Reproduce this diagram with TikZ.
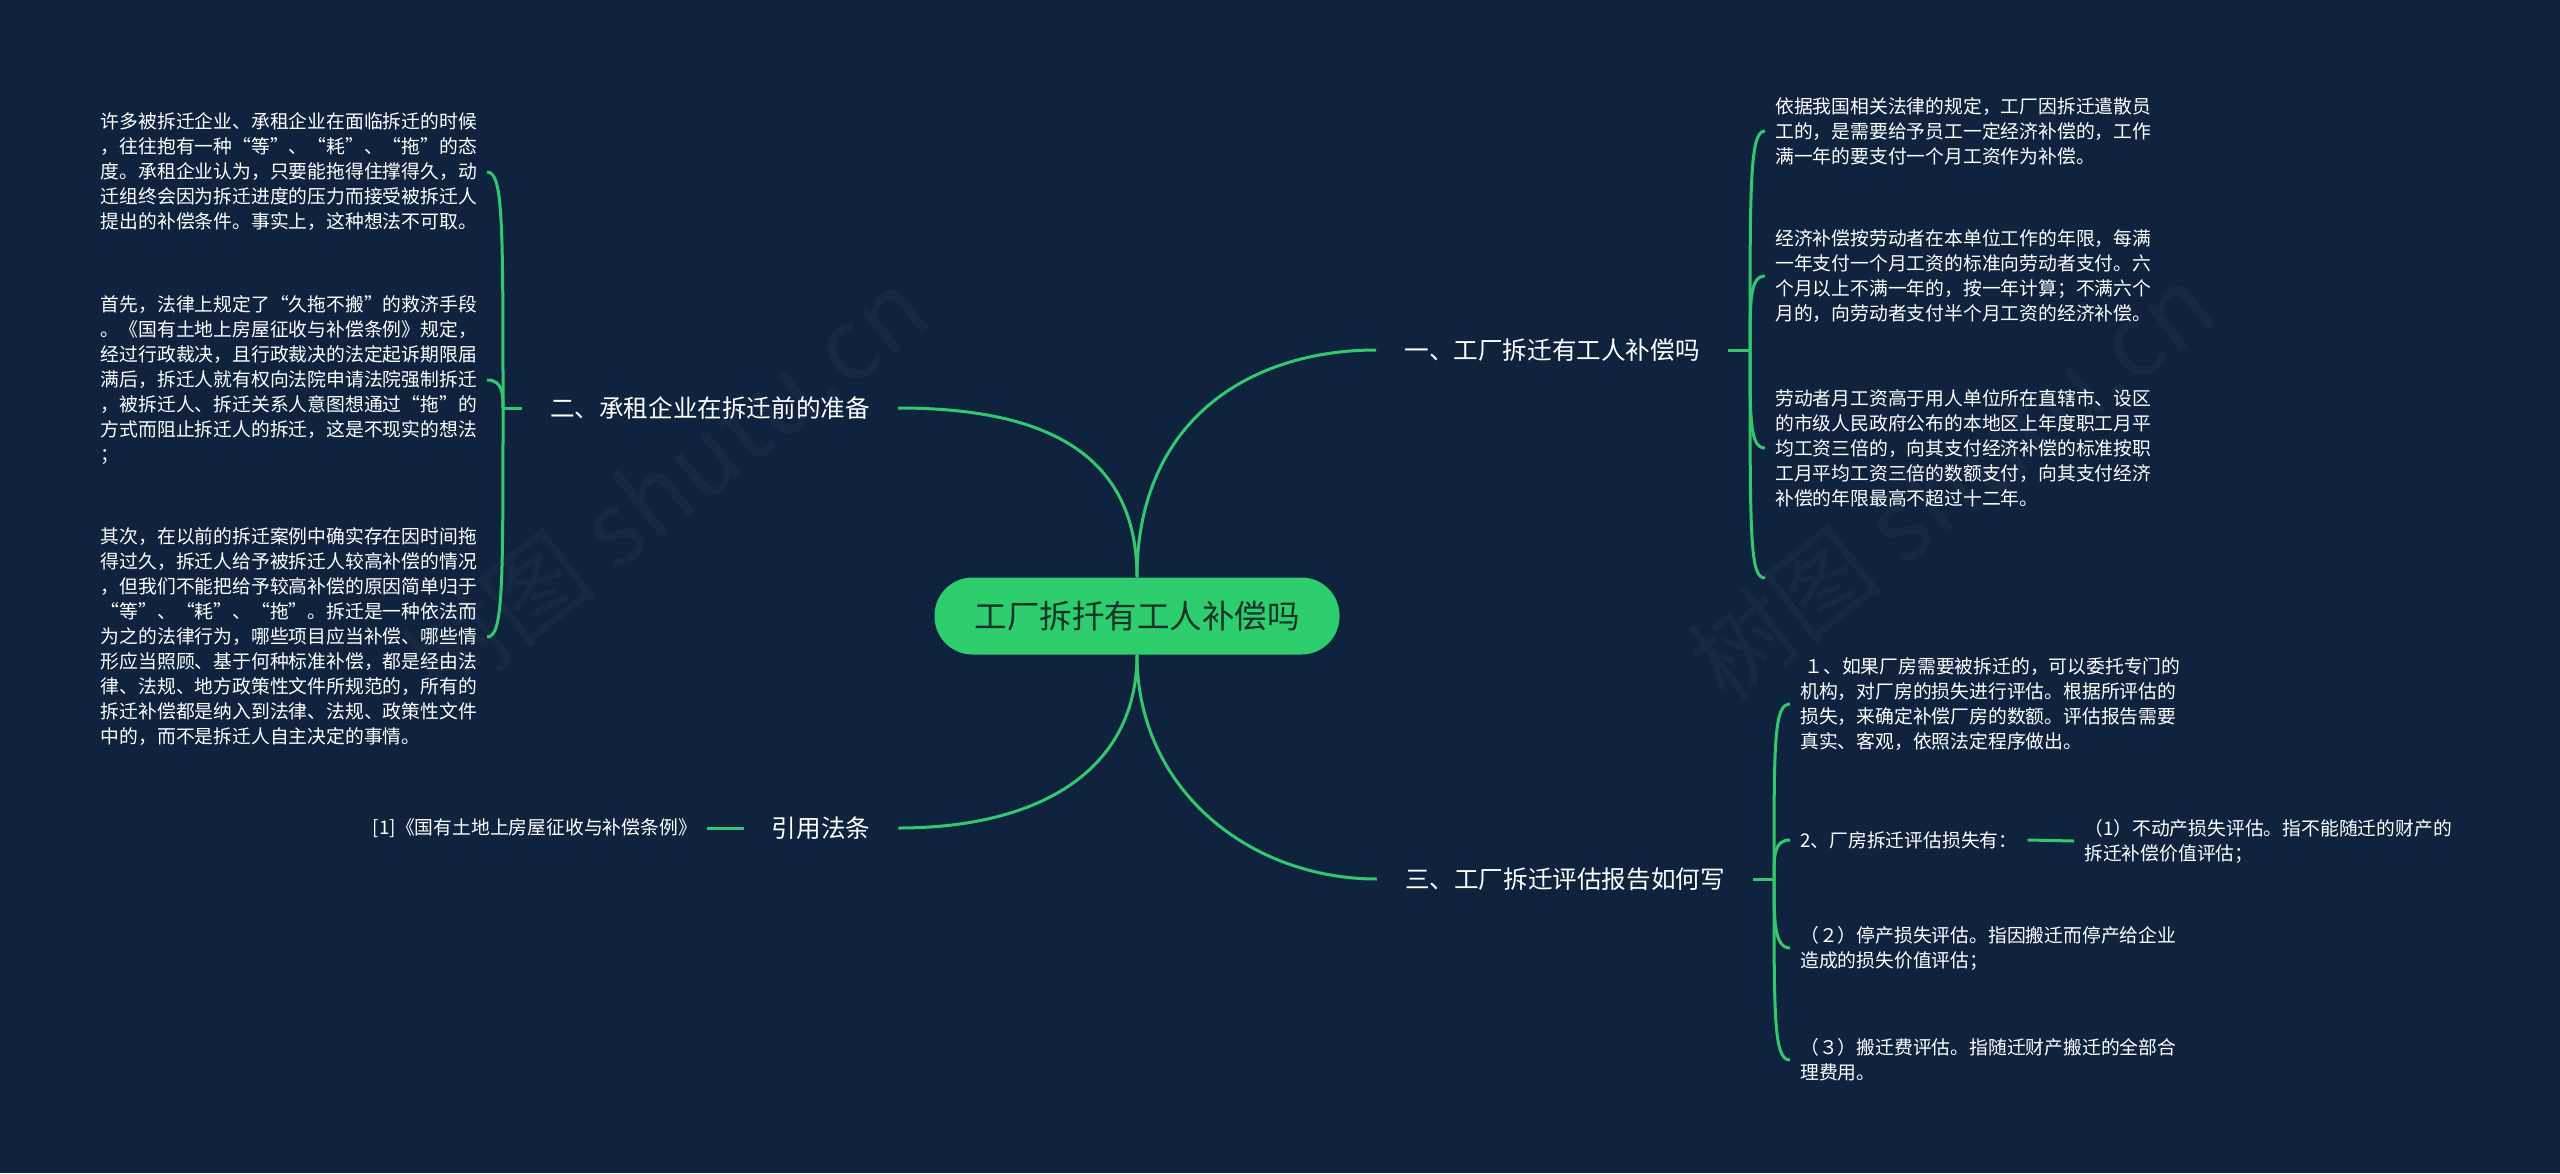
\documentclass[tikz,border=0pt]{standalone}
\usepackage{fontspec}
\newfontfamily\cjk{Noto Sans CJK SC}
\definecolor{bgnavy}{RGB}{15,35,62}
\definecolor{linkgreen}{RGB}{52,200,110}
\definecolor{rootgreen}{RGB}{46,206,110}
\definecolor{rootink}{RGB}{22,52,40}

\begin{document}
\begin{tikzpicture}[
    x=1pt, y=-1pt,
    root_node/.style={fill=rootgreen, text=rootink, rounded corners=38pt, minimum width=405pt, minimum height=77pt, font=\cjk\fontsize{32.5}{36}\selectfont},
    branch_node/.style={text=white, inner xsep=28pt, font=\cjk\fontsize{24.6}{30}\selectfont},
    leaf_node/.style={text=white, align=left, inner xsep=10pt, inner ysep=0pt, font=\cjk\fontsize{18.8}{25}\selectfont},
    mark_text/.style={text=white, opacity=0.03, font=\cjk\fontsize{100}{110}\selectfont},
    link/.style={draw=linkgreen, line width=3pt}
]
    \useasboundingbox (0,0) rectangle (2560,1173);
    \fill[bgnavy] (0,0) rectangle (2560,1173);
    \node[mark_text, rotate=38] (mark1) at (665,486) {树图 shutu.cn};
    \node[mark_text, rotate=38] (mark2) at (1951,482) {树图 shutu.cn};

    \node[root_node] (root) at (1137,616) {工厂拆扦有工人补偿吗};
    \node[branch_node] (b1) at (1552,350) {一、工厂拆迁有工人补偿吗};
    \node[branch_node] (b2) at (710,408) {二、承租企业在拆迁前的准备};
    \node[branch_node] (b3) at (821,828) {引用法条};
    \node[branch_node] (b4) at (1565,879) {三、工厂拆迁评估报告如何写};

    \node[leaf_node, anchor=west] (l11) at (1765,131) {依据我国相关法律的规定，工厂因拆迁遣散员\\工的，是需要给予员工一定经济补偿的，工作\\满一年的要支付一个月工资作为补偿。};
    \node[leaf_node, anchor=west] (l12) at (1765,276) {经济补偿按劳动者在本单位工作的年限，每满\\一年支付一个月工资的标准向劳动者支付。六\\个月以上不满一年的，按一年计算；不满六个\\月的，向劳动者支付半个月工资的经济补偿。};
    \node[leaf_node, anchor=west] (l13) at (1765,448) {劳动者月工资高于用人单位所在直辖市、设区\\的市级人民政府公布的本地区上年度职工月平\\均工资三倍的，向其支付经济补偿的标准按职\\工月平均工资三倍的数额支付，向其支付经济\\补偿的年限最高不超过十二年。};
    \coordinate (l14) at (1765,578);

    \node[leaf_node, anchor=east] (l21) at (487,172) {许多被拆迁企业、承租企业在面临拆迁的时候\\，往往抱有一种“等”、“耗”、“拖”的态\\度。承租企业认为，只要能拖得住撑得久，动\\迁组终会因为拆迁进度的压力而接受被拆迁人\\提出的补偿条件。事实上，这种想法不可取。};
    \node[leaf_node, anchor=east] (l22) at (487,380) {首先，法律上规定了“久拖不搬”的救济手段\\。《国有土地上房屋征收与补偿条例》规定，\\经过行政裁决，且行政裁决的法定起诉期限届\\满后，拆迁人就有权向法院申请法院强制拆迁\\，被拆迁人、拆迁关系人意图想通过“拖”的\\方式而阻止拆迁人的拆迁，这是不现实的想法\\；};
    \node[leaf_node, anchor=east] (l23) at (487,637) {其次，在以前的拆迁案例中确实存在因时间拖\\得过久，拆迁人给予被拆迁人较高补偿的情况\\，但我们不能把给予较高补偿的原因简单归于\\“等”、“耗”、“拖”。拆迁是一种依法而\\为之的法律行为，哪些项目应当补偿、哪些情\\形应当照顾、基于何种标准补偿，都是经由法\\律、法规、地方政策性文件所规范的，所有的\\拆迁补偿都是纳入到法律、法规、政策性文件\\中的，而不是拆迁人自主决定的事情。};

    \node[leaf_node, anchor=east] (l31) at (707,828) {[1]《国有土地上房屋征收与补偿条例》};

    \node[leaf_node, anchor=west] (l41) at (1790,704) {\ １、如果厂房需要被拆迁的，可以委托专门的\\机构，对厂房的损失进行评估。根据所评估的\\损失，来确定补偿厂房的数额。评估报告需要\\真实、客观，依照法定程序做出。};
    \node[leaf_node, anchor=west] (l42) at (1790,840) {2、厂房拆迁评估损失有：};
    \node[leaf_node, anchor=west] (l421) at (2074,841) {（1）不动产损失评估。指不能随迁的财产的\\拆迁补偿价值评估；};
    \node[leaf_node, anchor=west] (l43) at (1790,948) {（２）停产损失评估。指因搬迁而停产给企业\\造成的损失价值评估；};
    \node[leaf_node, anchor=west] (l44) at (1790,1060) {（３）搬迁费评估。指随迁财产搬迁的全部合\\理费用。};

    \coordinate (j1) at (1750,350);
    \coordinate (j2) at (503,408);
    \coordinate (j4) at (1774,879);

    \draw[link] (root.north) .. controls (1137,420) and (1250,350) .. (b1.west);
    \draw[link] (root.north) .. controls (1137,450) and (1040,408) .. (b2.east);
    \draw[link] (root.south) .. controls (1137,770) and (1040,828) .. (b3.east);
    \draw[link] (root.south) .. controls (1137,790) and (1250,879) .. (b4.west);

    \draw[link] (b1.east) -- (j1);
    \draw[link] (j1) .. controls (1750,180) and (1750,131) .. (l11.west);
    \draw[link] (j1) .. controls (1750,300) and (1750,276) .. (l12.west);
    \draw[link] (j1) .. controls (1750,420) and (1750,448) .. (l13.west);
    \draw[link] (j1) .. controls (1750,540) and (1750,578) .. (l14);

    \draw[link] (b2.west) -- (j2);
    \draw[link] (j2) .. controls (503,220) and (503,172) .. (l21.east);
    \draw[link] (j2) .. controls (503,395) and (503,380) .. (l22.east);
    \draw[link] (j2) .. controls (503,590) and (503,637) .. (l23.east);

    \draw[link] (b3.west) -- (l31.east);

    \draw[link] (b4.east) -- (j4);
    \draw[link] (j4) .. controls (1774,740) and (1774,704) .. (l41.west);
    \draw[link] (j4) .. controls (1774,855) and (1774,840) .. (l42.west);
    \draw[link] (j4) .. controls (1774,920) and (1774,948) .. (l43.west);
    \draw[link] (j4) .. controls (1774,1020) and (1774,1060) .. (l44.west);
    \draw[link] (l42.east) -- (l421.west);
\end{tikzpicture}
\end{document}
